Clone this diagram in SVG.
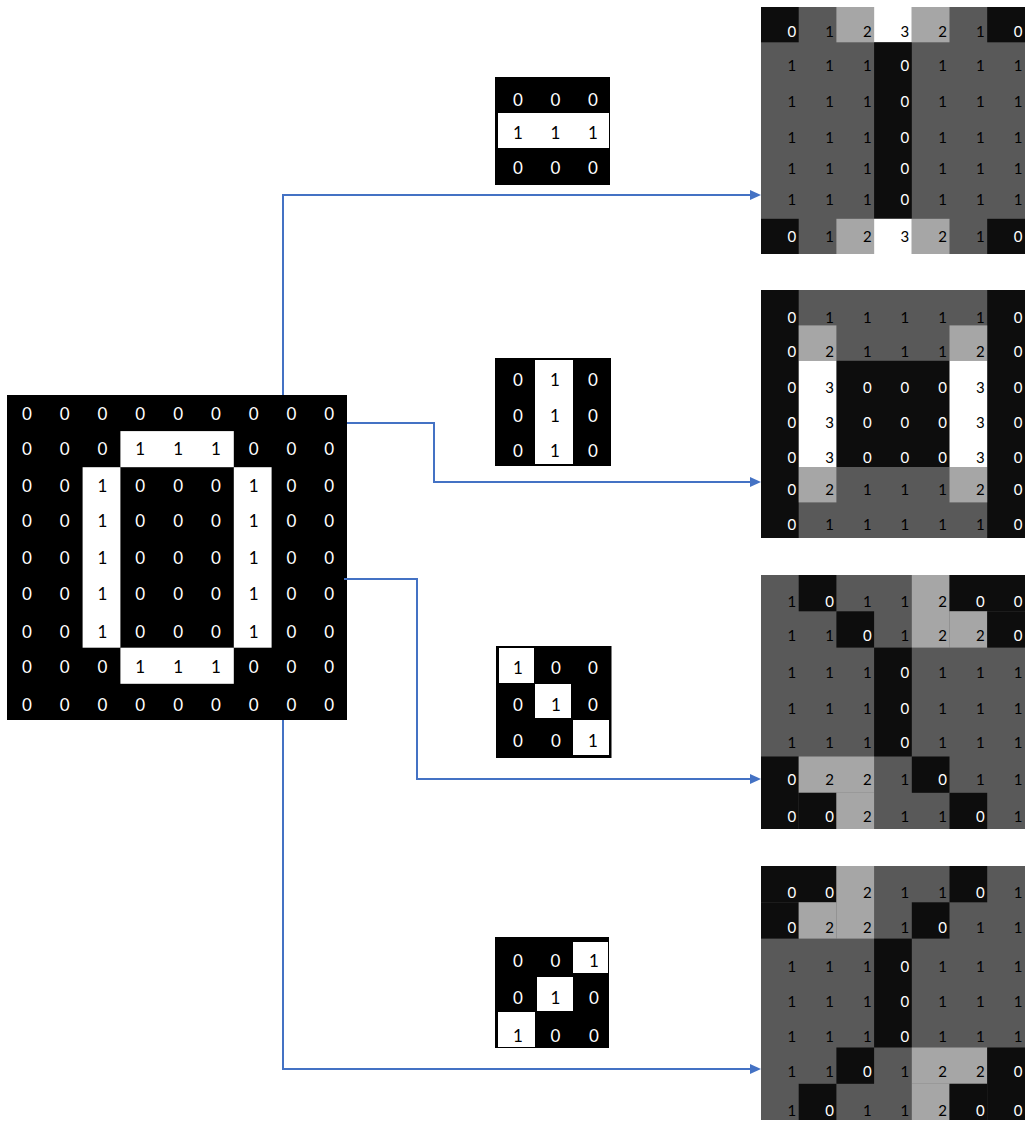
<svg xmlns="http://www.w3.org/2000/svg" width="1025" height="1122" viewBox="0 0 1025 1122">
<style>
.k{fill:#000}
.w{fill:#fff}
.b{fill:#0d0d0d}
.g{fill:#595959}
.l{fill:#a6a6a6}
text{font-family:Lato,"Liberation Sans",sans-serif}
.big{font-size:17px;text-anchor:middle}
.sm{font-size:15px;text-anchor:end}
.tw{fill:#fff}
.tk{fill:#000}
.conn{fill:none;stroke:#4472c4;stroke-width:2}
</style>
<defs>
<marker id="arr" markerUnits="userSpaceOnUse" markerWidth="11" markerHeight="10" viewBox="0 0 11 10" refX="1" refY="5" orient="auto">
<path d="M0,0 L11,5 L0,10 z" fill="#4472c4"/>
</marker>
</defs>
<rect width="1025" height="1122" fill="#fff"/>

<g id="input">
<rect class="k" x="7" y="395" width="340" height="325"/>
<rect class="w" x="120.4" y="431.1" width="113.4" height="36.1"/>
<rect class="w" x="120.4" y="647.7" width="113.4" height="36.1"/>
<rect class="w" x="82.6" y="467.2" width="37.8" height="180.5"/>
<rect class="w" x="233.8" y="467.2" width="37.8" height="180.5"/>
<g class="big">
<text y="420"><tspan x="26.9" class="tw">0</tspan><tspan x="64.7" class="tw">0</tspan><tspan x="102.5" class="tw">0</tspan><tspan x="140.3" class="tw">0</tspan><tspan x="178.1" class="tw">0</tspan><tspan x="215.9" class="tw">0</tspan><tspan x="253.7" class="tw">0</tspan><tspan x="291.5" class="tw">0</tspan><tspan x="329.3" class="tw">0</tspan></text>
<text y="455"><tspan x="26.9" class="tw">0</tspan><tspan x="64.7" class="tw">0</tspan><tspan x="102.5" class="tw">0</tspan><tspan x="140.3" class="tk">1</tspan><tspan x="178.1" class="tk">1</tspan><tspan x="215.9" class="tk">1</tspan><tspan x="253.7" class="tw">0</tspan><tspan x="291.5" class="tw">0</tspan><tspan x="329.3" class="tw">0</tspan></text>
<text y="492"><tspan x="26.9" class="tw">0</tspan><tspan x="64.7" class="tw">0</tspan><tspan x="102.5" class="tk">1</tspan><tspan x="140.3" class="tw">0</tspan><tspan x="178.1" class="tw">0</tspan><tspan x="215.9" class="tw">0</tspan><tspan x="253.7" class="tk">1</tspan><tspan x="291.5" class="tw">0</tspan><tspan x="329.3" class="tw">0</tspan></text>
<text y="527"><tspan x="26.9" class="tw">0</tspan><tspan x="64.7" class="tw">0</tspan><tspan x="102.5" class="tk">1</tspan><tspan x="140.3" class="tw">0</tspan><tspan x="178.1" class="tw">0</tspan><tspan x="215.9" class="tw">0</tspan><tspan x="253.7" class="tk">1</tspan><tspan x="291.5" class="tw">0</tspan><tspan x="329.3" class="tw">0</tspan></text>
<text y="564"><tspan x="26.9" class="tw">0</tspan><tspan x="64.7" class="tw">0</tspan><tspan x="102.5" class="tk">1</tspan><tspan x="140.3" class="tw">0</tspan><tspan x="178.1" class="tw">0</tspan><tspan x="215.9" class="tw">0</tspan><tspan x="253.7" class="tk">1</tspan><tspan x="291.5" class="tw">0</tspan><tspan x="329.3" class="tw">0</tspan></text>
<text y="600"><tspan x="26.9" class="tw">0</tspan><tspan x="64.7" class="tw">0</tspan><tspan x="102.5" class="tk">1</tspan><tspan x="140.3" class="tw">0</tspan><tspan x="178.1" class="tw">0</tspan><tspan x="215.9" class="tw">0</tspan><tspan x="253.7" class="tk">1</tspan><tspan x="291.5" class="tw">0</tspan><tspan x="329.3" class="tw">0</tspan></text>
<text y="638"><tspan x="26.9" class="tw">0</tspan><tspan x="64.7" class="tw">0</tspan><tspan x="102.5" class="tk">1</tspan><tspan x="140.3" class="tw">0</tspan><tspan x="178.1" class="tw">0</tspan><tspan x="215.9" class="tw">0</tspan><tspan x="253.7" class="tk">1</tspan><tspan x="291.5" class="tw">0</tspan><tspan x="329.3" class="tw">0</tspan></text>
<text y="673"><tspan x="26.9" class="tw">0</tspan><tspan x="64.7" class="tw">0</tspan><tspan x="102.5" class="tw">0</tspan><tspan x="140.3" class="tk">1</tspan><tspan x="178.1" class="tk">1</tspan><tspan x="215.9" class="tk">1</tspan><tspan x="253.7" class="tw">0</tspan><tspan x="291.5" class="tw">0</tspan><tspan x="329.3" class="tw">0</tspan></text>
<text y="710.5"><tspan x="26.9" class="tw">0</tspan><tspan x="64.7" class="tw">0</tspan><tspan x="102.5" class="tw">0</tspan><tspan x="140.3" class="tw">0</tspan><tspan x="178.1" class="tw">0</tspan><tspan x="215.9" class="tw">0</tspan><tspan x="253.7" class="tw">0</tspan><tspan x="291.5" class="tw">0</tspan><tspan x="329.3" class="tw">0</tspan></text>
</g>
</g>

<g id="kernel1">
<rect class="k" x="495" y="77" width="115" height="108"/>
<rect class="w" x="498" y="113" width="111" height="35"/>
<g class="big">
<text y="106"><tspan x="518" class="tw">0</tspan><tspan x="555.5" class="tw">0</tspan><tspan x="593" class="tw">0</tspan></text>
<text y="139"><tspan x="518" class="tk">1</tspan><tspan x="555.5" class="tk">1</tspan><tspan x="593" class="tk">1</tspan></text>
<text y="174"><tspan x="518" class="tw">0</tspan><tspan x="555.5" class="tw">0</tspan><tspan x="593" class="tw">0</tspan></text>
</g>
</g>

<g id="kernel2">
<rect class="k" x="495" y="358" width="116" height="108"/>
<rect class="w" x="535" y="360" width="38" height="104"/>
<g class="big">
<text y="386"><tspan x="518" class="tw">0</tspan><tspan x="555" class="tk">1</tspan><tspan x="593" class="tw">0</tspan></text>
<text y="421.5"><tspan x="518" class="tw">0</tspan><tspan x="555" class="tk">1</tspan><tspan x="593" class="tw">0</tspan></text>
<text y="456.5"><tspan x="518" class="tw">0</tspan><tspan x="555" class="tk">1</tspan><tspan x="593" class="tw">0</tspan></text>
</g>
</g>

<g id="kernel3">
<rect class="k" x="496" y="646" width="115.5" height="112"/>
<rect class="w" x="499" y="648" width="35" height="35"/>
<rect class="w" x="535" y="684" width="36" height="34"/>
<rect class="w" x="573" y="720" width="36" height="35"/>
<g class="big">
<text y="673.5"><tspan x="518" class="tk">1</tspan><tspan x="556" class="tw">0</tspan><tspan x="593" class="tw">0</tspan></text>
<text y="710.5"><tspan x="518" class="tw">0</tspan><tspan x="556" class="tk">1</tspan><tspan x="593" class="tw">0</tspan></text>
<text y="746.5"><tspan x="518" class="tw">0</tspan><tspan x="556" class="tw">0</tspan><tspan x="593" class="tk">1</tspan></text>
</g>
</g>

<g id="kernel4">
<rect class="k" x="495" y="937" width="114" height="111"/>
<rect class="w" x="573" y="942" width="35" height="31"/>
<rect class="w" x="537" y="977" width="36" height="34"/>
<rect class="w" x="498" y="1012" width="37" height="35"/>
<g class="big">
<text y="966.5"><tspan x="518" class="tw">0</tspan><tspan x="555.5" class="tw">0</tspan><tspan x="594" class="tk">1</tspan></text>
<text y="1004"><tspan x="518" class="tw">0</tspan><tspan x="555.5" class="tk">1</tspan><tspan x="594" class="tw">0</tspan></text>
<text y="1041.5"><tspan x="518" class="tk">1</tspan><tspan x="555.5" class="tw">0</tspan><tspan x="594" class="tw">0</tspan></text>
</g>
</g>

<g id="output1">
<rect class="g" x="761" y="7" width="264" height="247"/>
<rect class="b" x="761" y="7" width="37.7" height="35.3"/>
<rect class="l" x="836.4" y="7" width="37.7" height="35.3"/>
<rect class="w" x="874.1" y="7" width="37.7" height="35.3"/>
<rect class="l" x="911.8" y="7" width="37.7" height="35.3"/>
<rect class="b" x="987.2" y="7" width="37.8" height="35.3"/>
<rect class="b" x="874.1" y="42.3" width="37.7" height="176.5"/>
<rect class="b" x="761" y="218.8" width="37.7" height="35.2"/>
<rect class="l" x="836.4" y="218.8" width="37.7" height="35.2"/>
<rect class="w" x="874.1" y="218.8" width="37.7" height="35.2"/>
<rect class="l" x="911.8" y="218.8" width="37.7" height="35.2"/>
<rect class="b" x="987.2" y="218.8" width="37.8" height="35.2"/>
<g class="sm">
<text y="37"><tspan x="796.2" class="tw">0</tspan><tspan x="833.9" class="tk">1</tspan><tspan x="871.6" class="tk">2</tspan><tspan x="909.3" class="tk">3</tspan><tspan x="947" class="tk">2</tspan><tspan x="984.7" class="tk">1</tspan><tspan x="1022.4" class="tw">0</tspan></text>
<text y="71"><tspan x="796.2" class="tk">1</tspan><tspan x="833.9" class="tk">1</tspan><tspan x="871.6" class="tk">1</tspan><tspan x="909.3" class="tw">0</tspan><tspan x="947" class="tk">1</tspan><tspan x="984.7" class="tk">1</tspan><tspan x="1022.4" class="tk">1</tspan></text>
<text y="107"><tspan x="796.2" class="tk">1</tspan><tspan x="833.9" class="tk">1</tspan><tspan x="871.6" class="tk">1</tspan><tspan x="909.3" class="tw">0</tspan><tspan x="947" class="tk">1</tspan><tspan x="984.7" class="tk">1</tspan><tspan x="1022.4" class="tk">1</tspan></text>
<text y="143"><tspan x="796.2" class="tk">1</tspan><tspan x="833.9" class="tk">1</tspan><tspan x="871.6" class="tk">1</tspan><tspan x="909.3" class="tw">0</tspan><tspan x="947" class="tk">1</tspan><tspan x="984.7" class="tk">1</tspan><tspan x="1022.4" class="tk">1</tspan></text>
<text y="174"><tspan x="796.2" class="tk">1</tspan><tspan x="833.9" class="tk">1</tspan><tspan x="871.6" class="tk">1</tspan><tspan x="909.3" class="tw">0</tspan><tspan x="947" class="tk">1</tspan><tspan x="984.7" class="tk">1</tspan><tspan x="1022.4" class="tk">1</tspan></text>
<text y="205"><tspan x="796.2" class="tk">1</tspan><tspan x="833.9" class="tk">1</tspan><tspan x="871.6" class="tk">1</tspan><tspan x="909.3" class="tw">0</tspan><tspan x="947" class="tk">1</tspan><tspan x="984.7" class="tk">1</tspan><tspan x="1022.4" class="tk">1</tspan></text>
<text y="242"><tspan x="796.2" class="tw">0</tspan><tspan x="833.9" class="tk">1</tspan><tspan x="871.6" class="tk">2</tspan><tspan x="909.3" class="tk">3</tspan><tspan x="947" class="tk">2</tspan><tspan x="984.7" class="tk">1</tspan><tspan x="1022.4" class="tw">0</tspan></text>
</g>
</g>

<g id="output2">
<rect class="b" x="761" y="290" width="264" height="248"/>
<rect class="g" x="798.7" y="290" width="188.5" height="70.8"/>
<rect class="g" x="798.7" y="467" width="188.5" height="71"/>
<rect class="l" x="798.7" y="325.4" width="37.7" height="35.4"/>
<rect class="l" x="949.5" y="325.4" width="37.7" height="35.4"/>
<rect class="l" x="798.7" y="467" width="37.7" height="35.4"/>
<rect class="l" x="949.5" y="467" width="37.7" height="35.4"/>
<rect class="w" x="798.7" y="360.8" width="37.7" height="106.2"/>
<rect class="w" x="949.5" y="360.8" width="37.7" height="106.2"/>
<g class="sm">
<text y="323"><tspan x="796.2" class="tw">0</tspan><tspan x="833.9" class="tk">1</tspan><tspan x="871.6" class="tk">1</tspan><tspan x="909.3" class="tk">1</tspan><tspan x="947" class="tk">1</tspan><tspan x="984.7" class="tk">1</tspan><tspan x="1022.4" class="tw">0</tspan></text>
<text y="357"><tspan x="796.2" class="tw">0</tspan><tspan x="833.9" class="tk">2</tspan><tspan x="871.6" class="tk">1</tspan><tspan x="909.3" class="tk">1</tspan><tspan x="947" class="tk">1</tspan><tspan x="984.7" class="tk">2</tspan><tspan x="1022.4" class="tw">0</tspan></text>
<text y="393"><tspan x="796.2" class="tw">0</tspan><tspan x="833.9" class="tk">3</tspan><tspan x="871.6" class="tw">0</tspan><tspan x="909.3" class="tw">0</tspan><tspan x="947" class="tw">0</tspan><tspan x="984.7" class="tk">3</tspan><tspan x="1022.4" class="tw">0</tspan></text>
<text y="428"><tspan x="796.2" class="tw">0</tspan><tspan x="833.9" class="tk">3</tspan><tspan x="871.6" class="tw">0</tspan><tspan x="909.3" class="tw">0</tspan><tspan x="947" class="tw">0</tspan><tspan x="984.7" class="tk">3</tspan><tspan x="1022.4" class="tw">0</tspan></text>
<text y="463"><tspan x="796.2" class="tw">0</tspan><tspan x="833.9" class="tk">3</tspan><tspan x="871.6" class="tw">0</tspan><tspan x="909.3" class="tw">0</tspan><tspan x="947" class="tw">0</tspan><tspan x="984.7" class="tk">3</tspan><tspan x="1022.4" class="tw">0</tspan></text>
<text y="495"><tspan x="796.2" class="tw">0</tspan><tspan x="833.9" class="tk">2</tspan><tspan x="871.6" class="tk">1</tspan><tspan x="909.3" class="tk">1</tspan><tspan x="947" class="tk">1</tspan><tspan x="984.7" class="tk">2</tspan><tspan x="1022.4" class="tw">0</tspan></text>
<text y="530"><tspan x="796.2" class="tw">0</tspan><tspan x="833.9" class="tk">1</tspan><tspan x="871.6" class="tk">1</tspan><tspan x="909.3" class="tk">1</tspan><tspan x="947" class="tk">1</tspan><tspan x="984.7" class="tk">1</tspan><tspan x="1022.4" class="tw">0</tspan></text>
</g>
</g>

<g id="output3">
<rect class="g" x="761" y="575" width="264" height="254"/>
<rect class="b" x="798.7" y="575" width="37.7" height="36.3"/>
<rect class="l" x="911.8" y="575" width="37.7" height="72.6"/>
<rect class="b" x="949.5" y="575" width="75.5" height="36.3"/>
<rect class="b" x="836.4" y="611.3" width="37.7" height="36.3"/>
<rect class="l" x="949.5" y="611.3" width="37.7" height="36.3"/>
<rect class="b" x="987.2" y="611.3" width="37.8" height="36.3"/>
<rect class="b" x="874.1" y="647.6" width="37.7" height="108.9"/>
<rect class="b" x="761" y="756.5" width="37.7" height="72.5"/>
<rect class="l" x="798.7" y="756.5" width="75.4" height="36.3"/>
<rect class="b" x="911.8" y="756.5" width="37.7" height="36.3"/>
<rect class="b" x="798.7" y="792.8" width="37.7" height="36.2"/>
<rect class="l" x="836.4" y="792.8" width="37.7" height="36.2"/>
<rect class="b" x="949.5" y="792.8" width="37.7" height="36.2"/>
<g class="sm">
<text y="607"><tspan x="796.2" class="tk">1</tspan><tspan x="833.9" class="tw">0</tspan><tspan x="871.6" class="tk">1</tspan><tspan x="909.3" class="tk">1</tspan><tspan x="947" class="tk">2</tspan><tspan x="984.7" class="tw">0</tspan><tspan x="1022.4" class="tw">0</tspan></text>
<text y="641"><tspan x="796.2" class="tk">1</tspan><tspan x="833.9" class="tk">1</tspan><tspan x="871.6" class="tw">0</tspan><tspan x="909.3" class="tk">1</tspan><tspan x="947" class="tk">2</tspan><tspan x="984.7" class="tk">2</tspan><tspan x="1022.4" class="tw">0</tspan></text>
<text y="678"><tspan x="796.2" class="tk">1</tspan><tspan x="833.9" class="tk">1</tspan><tspan x="871.6" class="tk">1</tspan><tspan x="909.3" class="tw">0</tspan><tspan x="947" class="tk">1</tspan><tspan x="984.7" class="tk">1</tspan><tspan x="1022.4" class="tk">1</tspan></text>
<text y="714"><tspan x="796.2" class="tk">1</tspan><tspan x="833.9" class="tk">1</tspan><tspan x="871.6" class="tk">1</tspan><tspan x="909.3" class="tw">0</tspan><tspan x="947" class="tk">1</tspan><tspan x="984.7" class="tk">1</tspan><tspan x="1022.4" class="tk">1</tspan></text>
<text y="748"><tspan x="796.2" class="tk">1</tspan><tspan x="833.9" class="tk">1</tspan><tspan x="871.6" class="tk">1</tspan><tspan x="909.3" class="tw">0</tspan><tspan x="947" class="tk">1</tspan><tspan x="984.7" class="tk">1</tspan><tspan x="1022.4" class="tk">1</tspan></text>
<text y="785"><tspan x="796.2" class="tw">0</tspan><tspan x="833.9" class="tk">2</tspan><tspan x="871.6" class="tk">2</tspan><tspan x="909.3" class="tk">1</tspan><tspan x="947" class="tw">0</tspan><tspan x="984.7" class="tk">1</tspan><tspan x="1022.4" class="tk">1</tspan></text>
<text y="822"><tspan x="796.2" class="tw">0</tspan><tspan x="833.9" class="tw">0</tspan><tspan x="871.6" class="tk">2</tspan><tspan x="909.3" class="tk">1</tspan><tspan x="947" class="tk">1</tspan><tspan x="984.7" class="tw">0</tspan><tspan x="1022.4" class="tk">1</tspan></text>
</g>
</g>

<g id="output4">
<rect class="g" x="761" y="866" width="264" height="254"/>
<rect class="b" x="761" y="866" width="75.4" height="36.3"/>
<rect class="l" x="836.4" y="866" width="37.7" height="72.6"/>
<rect class="b" x="949.5" y="866" width="37.7" height="36.3"/>
<rect class="b" x="761" y="902.3" width="37.7" height="36.3"/>
<rect class="l" x="798.7" y="902.3" width="37.7" height="36.3"/>
<rect class="b" x="911.8" y="902.3" width="37.7" height="36.3"/>
<rect class="b" x="874.1" y="938.6" width="37.7" height="108.9"/>
<rect class="b" x="836.4" y="1047.5" width="37.7" height="36.3"/>
<rect class="l" x="911.8" y="1047.5" width="75.4" height="36.3"/>
<rect class="b" x="987.2" y="1047.5" width="37.8" height="72.5"/>
<rect class="b" x="798.7" y="1083.8" width="37.7" height="36.2"/>
<rect class="l" x="911.8" y="1083.8" width="37.7" height="36.2"/>
<rect class="b" x="949.5" y="1083.8" width="37.7" height="36.2"/>
<g class="sm">
<text y="898"><tspan x="796.2" class="tw">0</tspan><tspan x="833.9" class="tw">0</tspan><tspan x="871.6" class="tk">2</tspan><tspan x="909.3" class="tk">1</tspan><tspan x="947" class="tk">1</tspan><tspan x="984.7" class="tw">0</tspan><tspan x="1022.4" class="tk">1</tspan></text>
<text y="933"><tspan x="796.2" class="tw">0</tspan><tspan x="833.9" class="tk">2</tspan><tspan x="871.6" class="tk">2</tspan><tspan x="909.3" class="tk">1</tspan><tspan x="947" class="tw">0</tspan><tspan x="984.7" class="tk">1</tspan><tspan x="1022.4" class="tk">1</tspan></text>
<text y="972"><tspan x="796.2" class="tk">1</tspan><tspan x="833.9" class="tk">1</tspan><tspan x="871.6" class="tk">1</tspan><tspan x="909.3" class="tw">0</tspan><tspan x="947" class="tk">1</tspan><tspan x="984.7" class="tk">1</tspan><tspan x="1022.4" class="tk">1</tspan></text>
<text y="1007"><tspan x="796.2" class="tk">1</tspan><tspan x="833.9" class="tk">1</tspan><tspan x="871.6" class="tk">1</tspan><tspan x="909.3" class="tw">0</tspan><tspan x="947" class="tk">1</tspan><tspan x="984.7" class="tk">1</tspan><tspan x="1022.4" class="tk">1</tspan></text>
<text y="1042"><tspan x="796.2" class="tk">1</tspan><tspan x="833.9" class="tk">1</tspan><tspan x="871.6" class="tk">1</tspan><tspan x="909.3" class="tw">0</tspan><tspan x="947" class="tk">1</tspan><tspan x="984.7" class="tk">1</tspan><tspan x="1022.4" class="tk">1</tspan></text>
<text y="1077"><tspan x="796.2" class="tk">1</tspan><tspan x="833.9" class="tk">1</tspan><tspan x="871.6" class="tw">0</tspan><tspan x="909.3" class="tk">1</tspan><tspan x="947" class="tk">2</tspan><tspan x="984.7" class="tk">2</tspan><tspan x="1022.4" class="tw">0</tspan></text>
<text y="1116"><tspan x="796.2" class="tk">1</tspan><tspan x="833.9" class="tw">0</tspan><tspan x="871.6" class="tk">1</tspan><tspan x="909.3" class="tk">1</tspan><tspan x="947" class="tk">2</tspan><tspan x="984.7" class="tw">0</tspan><tspan x="1022.4" class="tw">0</tspan></text>
</g>
</g>

<g id="connectors">
<path class="conn" d="M283,395 V195 H751" marker-end="url(#arr)"/>
<path class="conn" d="M347,423 H434 V482 H751" marker-end="url(#arr)"/>
<path class="conn" d="M344,579 H417 V779 H751" marker-end="url(#arr)"/>
<path class="conn" d="M283,720 V1069 H751" marker-end="url(#arr)"/>
</g>
</svg>
